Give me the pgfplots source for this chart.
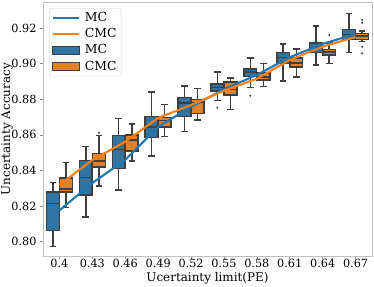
\documentclass[border=0pt]{standalone}
\usepackage{pgfplots}
\pgfplotsset{compat=1.18}
\usepackage{fontspec}
\setmainfont{DejaVu Serif}
\definecolor{bxblue}{HTML}{3274A1}
\definecolor{bxorange}{HTML}{E1812C}
\definecolor{lnblue}{HTML}{1F77B4}
\definecolor{lnorange}{HTML}{FF7F0E}
\definecolor{edge}{HTML}{3F3F3F}
% values in percent (accuracy x 100); #1 pos, #2 lower whisker, #3 q1, #4 median, #5 q3, #6 upper whisker, #7 colour
\newcommand{\bxp}[7]{%
\pgfmathsetmacro{\xa}{#1-0.195}\pgfmathsetmacro{\xb}{#1+0.195}%
\pgfmathsetmacro{\ca}{#1-0.1}\pgfmathsetmacro{\cb}{#1+0.1}%
\addplot[forget plot, fill=#7, draw=edge, line width=1.5bp, line join=miter]
  coordinates {(\xa,#3) (\xb,#3) (\xb,#5) (\xa,#5)} -- cycle;
\addplot[forget plot, draw=edge, line width=1.5bp, unbounded coords=jump]
  coordinates {(#1,#2) (#1,#3) (nan,nan) (#1,#5) (#1,#6) (nan,nan)
   (\ca,#2) (\cb,#2) (nan,nan) (\ca,#6) (\cb,#6) (nan,nan) (\xa,#4) (\xb,#4)};}
\begin{document}
\begin{tikzpicture}
\begin{axis}[name=ax,
  scale only axis, width=329bp, height=254.5bp,
  xmin=-0.5, xmax=9.5, ymin=79.169, ymax=93.466,
  xtick={0,...,9},
  xticklabels={0.4,0.43,0.46,0.49,0.52,0.55,0.58,0.61,0.64,0.67},
  ytick={80,82,84,86,88,90,92},
  yticklabels={0.80,0.82,0.84,0.86,0.88,0.90,0.92},
  tick label style={font=\fontsize{11.3}{13}\selectfont, black},
  xticklabel style={yshift=3.3bp},
  yticklabel style={xshift=-0.5bp},
  label style={font=\fontsize{12}{14}\selectfont},
  xlabel={Ucertainty limit(PE)}, ylabel={Uncertainty Accuracy},
  xlabel style={at={(axis description cs:0.5,-0.0845)}, anchor=center},
  ylabel style={at={(axis description cs:-0.1095,0.5)}, anchor=center},
  axis line style={draw=black!25, line width=0.8bp},
  tick align=outside, major tick length=2.5bp,
  tick style={draw=black!45, line width=0.6bp},
  xtick pos=bottom, ytick pos=left,
  legend style={at={(0.0185,0.9764)}, anchor=north west, draw=black!20,
    rounded corners=2bp, fill=white, font=\fontsize{12.5}{14}\selectfont,
    row sep=1.3bp, column sep=2.5bp, inner sep=2.5bp},
  legend cell align=left,
]
% legend entries
\addlegendimage{legend image code/.code={\draw[sharp corners, lnblue, line width=2bp] (0bp,0bp) -- (26.5bp,0bp);}}
\addlegendentry{MC}
\addlegendimage{legend image code/.code={\draw[sharp corners, lnorange, line width=2bp] (0bp,0bp) -- (26.5bp,0bp);}}
\addlegendentry{CMC}
\addlegendimage{legend image code/.code={\draw[sharp corners, fill=bxblue, draw=edge, line width=1.1bp] (0bp,-4bp) rectangle (26.5bp,4bp);}}
\addlegendentry{MC}
\addlegendimage{legend image code/.code={\draw[sharp corners, fill=bxorange, draw=edge, line width=1.1bp] (0bp,-4bp) rectangle (26.5bp,4bp);}}
\addlegendentry{CMC}
% boxes MC (blue) at i-0.2, CMC (orange) at i+0.2
\bxp{-0.2}{79.72}{80.63}{82.15}{82.78}{83.33}{bxblue}
\bxp{0.2}{81.91}{82.78}{82.95}{83.58}{84.44}{bxorange}
\bxp{0.8}{81.40}{82.61}{83.62}{84.55}{85.34}{bxblue}
\bxp{1.2}{83.13}{84.20}{84.53}{84.96}{85.97}{bxorange}
\bxp{1.8}{82.90}{84.11}{85.19}{85.97}{86.93}{bxblue}
\bxp{2.2}{84.53}{85.10}{85.71}{85.99}{86.61}{bxorange}
\bxp{2.8}{84.81}{85.84}{86.43}{87.02}{88.41}{bxblue}
\bxp{3.2}{85.91}{86.43}{86.80}{86.97}{87.72}{bxorange}
\bxp{3.8}{86.20}{87.02}{87.78}{88.11}{88.75}{bxblue}
\bxp{4.2}{86.84}{87.19}{87.82}{87.99}{88.62}{bxorange}
\bxp{4.8}{87.94}{88.46}{88.66}{88.87}{89.52}{bxblue}
\bxp{5.2}{87.44}{88.24}{88.56}{88.96}{89.21}{bxorange}
\bxp{5.8}{88.67}{89.29}{89.54}{89.70}{90.32}{bxblue}
\bxp{6.2}{88.71}{89.08}{89.25}{89.48}{90.02}{bxorange}
\bxp{6.8}{89.03}{90.04}{90.35}{90.63}{91.12}{bxblue}
\bxp{7.2}{89.24}{89.81}{90.04}{90.32}{90.83}{bxorange}
\bxp{7.8}{89.93}{90.62}{90.90}{91.15}{92.13}{bxblue}
\bxp{8.2}{90.02}{90.49}{90.67}{90.81}{91.15}{bxorange}
\bxp{8.8}{90.64}{91.37}{91.65}{91.93}{92.83}{bxblue}
\bxp{9.2}{91.25}{91.37}{91.56}{91.71}{91.85}{bxorange}
% fliers
\addplot[forget plot, only marks, mark=diamond*, mark size=0.9bp, color=edge] coordinates {
 (1.2,86.12) (4.8,87.53) (5.8,88.20) (8.2,91.61)
 (9.2,92.46) (9.2,92.30) (9.2,90.96) (9.2,90.58)};
% mean lines
\addplot[forget plot, lnblue, line width=2.1bp] coordinates {
 (0,81.76) (1,83.30) (2,84.59) (3,86.45) (4,87.58)
 (5,88.56) (6,89.37) (7,90.36) (8,91.11) (9,91.67)};
\addplot[forget plot, lnorange, line width=2.1bp] coordinates {
 (0,83.19) (1,84.59) (2,85.62) (3,86.95) (4,87.68)
 (5,88.48) (6,89.16) (7,90.21) (8,90.96) (9,91.50)};
\end{axis}
\pgfresetboundingbox
\path ([shift={(-43bp,-30.5bp)}]ax.south west) rectangle ([shift={(2bp,2bp)}]ax.north east);
\end{tikzpicture}
\end{document}
